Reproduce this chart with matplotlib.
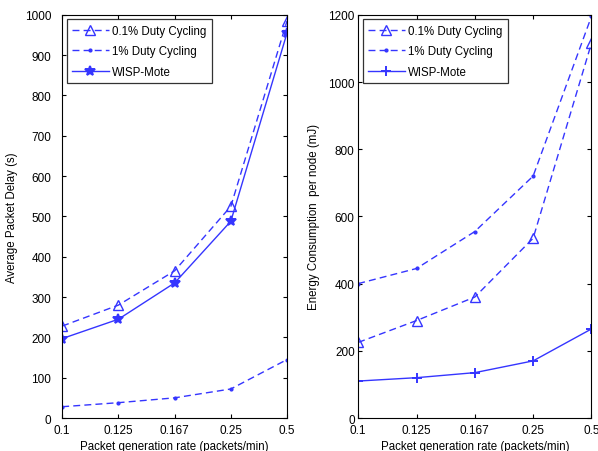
import matplotlib.pyplot as plt
import numpy as np

plt.rcParams['font.family'] = ['Liberation Sans', 'DejaVu Sans']
plt.rcParams['font.size'] = 8.3

# data
rates = ['0.1', '0.125', '0.167', '0.25', '0.5']
delay_01 = [228, 280, 365, 525, 985]
delay_1 = [28, 38, 50, 72, 145]
delay_wisp = [197, 245, 335, 488, 955]

energy_01 = [225, 290, 360, 535, 1115]
energy_1 = [400, 445, 555, 720, 1195]
energy_wisp = [110, 120, 135, 170, 265]

labels = ['0.1% Duty Cycling', '1% Duty Cycling', 'WISP-Mote']
col = '#3535ff'

fig = plt.figure(figsize=(5.98, 4.52), dpi=100)
ax1 = fig.add_axes([0.104, 0.073, 0.376, 0.892])
ax2 = fig.add_axes([0.599, 0.073, 0.390, 0.892])

x = np.arange(len(rates))


def draw(ax, s01, s1, sw, wmark, ypad):
    ax.plot(x, s01, '--', color=col, marker='^', mfc='none', ms=6.5, lw=1,
            dashes=(5, 3), label=labels[0])
    ax.plot(x, s1, '--', color=col, marker='.', ms=4, lw=1,
            dashes=(5, 3), label=labels[1])
    ax.plot(x, sw, '-', color=col, marker=wmark, ms=7, mew=1.4, lw=1, label=labels[2])
    ax.set_xticks(x)
    ax.set_xticklabels(rates)
    ax.set_xlim(0, len(rates) - 1)
    ax.tick_params(direction='in', top=True, right=True, length=3, labelsize=8.5)
    ax.tick_params(axis='x', pad=4.5)
    ax.tick_params(axis='y', pad=ypad)
    ax.set_xlabel('Packet generation rate (packets/min)', labelpad=3)
    leg = ax.legend(loc='upper left', fancybox=False, edgecolor='black',
                    handlelength=3.2, borderpad=0.45, labelspacing=0.75,
                    fontsize=8.3, borderaxespad=0.4, handletextpad=0.3)
    leg.get_frame().set_linewidth(0.9)


draw(ax1, delay_01, delay_1, delay_wisp, '*', 8)
ax1.set_ylim(0, 1000)
ax1.set_yticks(range(0, 1001, 100))
ax1.set_ylabel('Average Packet Delay (s)', labelpad=5)

draw(ax2, energy_01, energy_1, energy_wisp, '+', 2.5)
ax2.set_ylim(0, 1200)
ax2.set_yticks(range(0, 1201, 200))
ax2.set_ylabel('Energy Consumption  per node (mJ)', labelpad=6)

fig.savefig('out.png', dpi=100)
